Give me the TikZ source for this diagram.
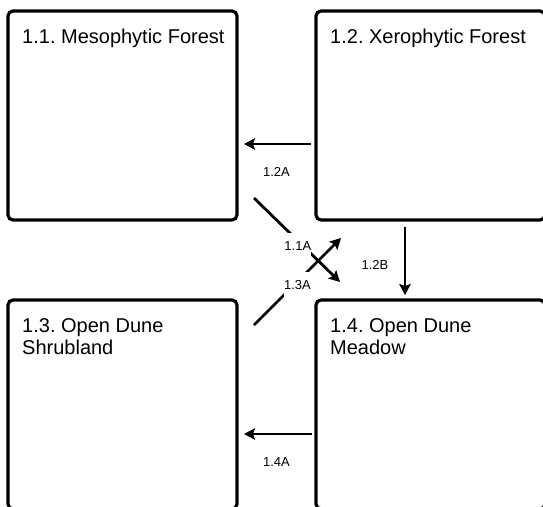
\documentclass[tikz,border=0pt]{standalone}
\usepackage{fontspec}
\setmainfont{Liberation Sans}
\usetikzlibrary{arrows.meta}
\frenchspacing

\begin{document}
\begin{tikzpicture}[x=1pt,y=-1pt]
\tikzstyle{every node}+=[inner sep=0pt]
\tikzstyle{zone}=[draw, line width=3.2pt, rounded corners=5pt, outer sep=0pt, minimum width=229pt, minimum height=209pt]
\tikzstyle{title}=[anchor=north west, align=left, font=\fontsize{20}{22}\selectfont]
\tikzstyle{flow}=[line width=2.8pt, -{Stealth[length=11pt,width=11.5pt,inset=2pt]}]
\tikzstyle{tag}=[font=\fontsize{13}{14}\selectfont]
\tikzstyle{gap}=[tag, fill=white, inner xsep=0pt, inner ysep=8pt]
\useasboundingbox (0,0) rectangle (543,506);
\clip (0,0) rectangle (543,506);
% habitat boxes
\node[zone] (meso) at (122.5,115.5) {};
\node[zone] (xero) at (430.5,115.5) {};
\node[zone] (shrub) at (122.5,404.5) {};
\node[zone] (meadow) at (430.5,404.5) {};
\node[title] (mesoname) at ([xshift=14pt,yshift=-16.5pt]meso.north west) {\strut 1.1. Mesophytic Forest};
\node[title] (xeroname) at ([xshift=14pt,yshift=-16.5pt]xero.north west) {\strut 1.2. Xerophytic Forest};
\node[title] (shrubname) at ([xshift=14pt,yshift=-16.5pt]shrub.north west) {\strut 1.3. Open Dune\\Shrubland};
\node[title] (meadowname) at ([xshift=14pt,yshift=-16.5pt]meadow.north west) {\strut 1.4. Open Dune\\Meadow};
% transitions
\draw[flow, shorten <=5pt, shorten >=7pt] ([yshift=-28.5pt]xero.west) -- ([yshift=-28.5pt]meso.east)
  node[tag, midway, yshift=-28pt] (t12a) {1.2A};
\draw[flow, shorten <=4pt, shorten >=7pt] ([yshift=-29.5pt]meadow.west) -- ([yshift=-29.5pt]shrub.east)
  node[tag, midway, yshift=-28pt] (t14a) {1.4A};
\draw[flow, shorten <=7pt, shorten >=5pt] ([xshift=-25.5pt]xero.south) -- ([xshift=-25.5pt]meadow.north)
  node[tag, midway, xshift=-30pt, yshift=-5pt] (t12b) {1.2B};
\draw[flow] ([xshift=17pt,yshift=22pt]meso.south east) -- ([xshift=24pt,yshift=18pt]meadow.north west)
  node[gap, pos=0.51, yshift=-5pt] (t11a) {1.1A};
\draw[flow] ([xshift=17pt,yshift=-25pt]shrub.north east) -- ([xshift=25pt,yshift=-18pt]xero.south west)
  node[gap, pos=0.5, yshift=-3.5pt] (t13a) {1.3A};
\end{tikzpicture}
\end{document}
